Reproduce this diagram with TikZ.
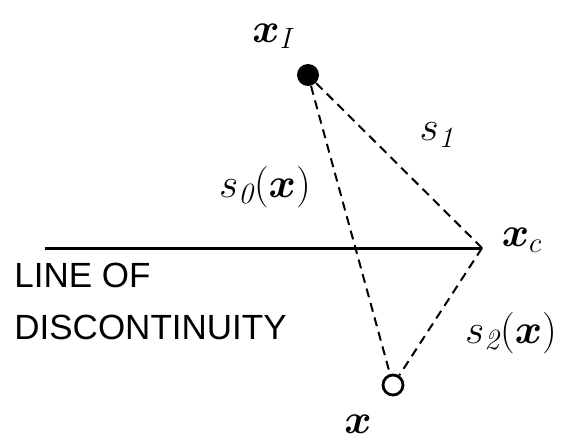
\documentclass[tikz,border=0pt]{standalone}
\usepackage{fontspec}
\usepackage{amsmath}
\usepackage{bm}
\newfontfamily\capsfont{Liberation Sans}
\usepackage{tikz}

\begin{document}
\begin{tikzpicture}[x=0.5pt, y=-0.5pt,
    lbl/.style={font=\fontsize{21}{25}\selectfont, inner sep=0pt},
    txt/.style={font=\capsfont\fontsize{17.5}{21}\selectfont, inner sep=0pt, anchor=west},
    link/.style={dashed, dash pattern=on 4.5pt off 3pt, line width=1pt}]

    \useasboundingbox (0,0) rectangle (563,440);

    % points
    \node[circle, fill=black, minimum size=11pt, inner sep=0pt] (xI) at (308,75) {};
    \coordinate (xc) at (482,248);
    \coordinate (start) at (45,248);
    \node[circle, draw=black, line width=1.4pt, minimum size=10pt, inner sep=0pt] (x) at (393,385) {};

    % labels
    \node[lbl] (xIlab) at (272,36) {$\bm{x}_{\mathit{I}}$};
    \node[lbl] (xclab) at (522,240) {$\bm{x}_{c}$};
    \node[lbl] (xlab) at (358,424) {$\bm{x}$};
    \node[lbl] (s0) at (265,187) {$s_{\mathit{0}}(\bm{x})$};
    \node[lbl] (s1) at (437,135) {$s_{\mathit{1}}$};
    \node[lbl] (s2) at (511,333) {$s_{\mathit{2}}(\bm{x})$};
    \node[txt] (line1) at (14,275) {LINE OF};
    \node[txt] (line2) at (14,327) {DISCONTINUITY};

    % line of discontinuity
    \draw[line width=1.5pt] (start) -- (xc);

    \draw[link] (xI) -- (x);
    \draw[link] (xI) -- (xc);
    \draw[link] (xc) -- (x);

\end{tikzpicture}
\end{document}
